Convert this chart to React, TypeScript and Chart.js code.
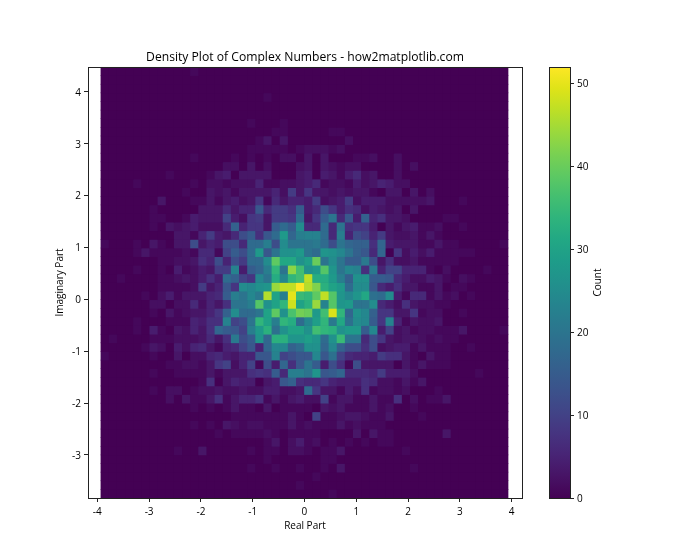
import React, { useEffect, useRef } from "react";
import { Chart, registerables } from "chart.js";

Chart.register(...registerables);

const FONT = "'Open Sans', sans-serif";
const TITLE = "Density Plot of Complex Numbers - how2matplotlib.com";
const X_LABEL = "Real Part";
const Y_LABEL = "Imaginary Part";
const BAR_LABEL = "Count";

const X_EDGE_LOW = -3.93;
const X_EDGE_HIGH = 3.93;
const Y_EDGE_LOW = -3.83;
const Y_EDGE_HIGH = 4.48;
const COUNT_MAX = 52;
const COUNT_TICK_STEP = 10;

const viridis = [
  "#440154", "#471365", "#482475", "#463480", "#414487", "#3b528b", "#355f8d", "#2f6c8e", "#2a788e",
  "#25848e", "#21918c", "#1e9c89", "#22a884", "#2fb47c", "#44bf70", "#5ec962", "#7ad151", "#9bd93c",
  "#bddf26", "#dfe318", "#fde725",
];

const z10 = [0, 0, 0, 0, 0, 0, 0, 0, 0, 0];

// counts by row, top row first
const row00 = [...z10, 0,1,0,0,0,0,0,0,0,0, ...z10, ...z10, ...z10];
const row01 = [...z10, ...z10, ...z10, ...z10, ...z10];
const row02 = [...z10, ...z10, ...z10, ...z10, ...z10];
const row03 = [...z10, ...z10, 1,0,0,0,0,0,0,0,0,0, ...z10, ...z10];
const row04 = [...z10, ...z10, ...z10, ...z10, ...z10];
const row05 = [...z10, ...z10, ...z10, ...z10, ...z10];
const row06 = [...z10, 0,0,0,0,0,0,0,0,1,0, 0,0,1,0,0,0,0,0,0,0, ...z10, ...z10];
const row07 = [...z10, ...z10, 0,1,1,0,0,0,0,0,1,1, ...z10, ...z10];
const row08 = [...z10, 0,0,0,0,0,0,0,0,0,1, 3,0,3,0,0,0,0,0,0,0, 2,0,0,0,0,0,0,0,0,0, ...z10];
const row09 = [...z10, 0,0,0,0,0,0,0,0,1,1, 1,1,1,0,1,2,2,2,1,2, ...z10, ...z10];
const row10 = [...z10, 0,1,0,0,0,0,1,0,1,0, 1,0,2,2,0,3,0,3,0,0, 0,1,1,2,0,0,2,0,0,0, ...z10];
const row11 = [...z10, 0,0,0,0,0,2,2,0,3,0, 2,0,0,0,2,3,0,3,2,1, 2,2,0,0,0,0,2,0,2,0, ...z10];
const row12 = [0,0,0,0,0,0,0,0,1,0, 0,0,0,1,3,4,0,3,3,3, 3,0,0,0,3,4,0,4,3,1, 4,6,2,3,0,0,2,0,0,0, ...z10];
const row13 = [0,0,0,0,1,0,0,0,0,0, 0,1,0,2,2,1,2,2,2,5, 1,1,2,2,3,4,6,1,2,2, 1,4,2,3,5,4,2,2,0,0, ...z10];
const row14 = [...z10, 1,0,0,3,2,3,1,3,3,3, 3,5,2,9,3,8,3,3,2,3, 2,3,3,1,0,3,3,0,3,0, 2,0,0,0,0,0,0,0,0,0];
const row15 = [0,0,0,0,0,0,0,3,0,0, 0,1,1,3,1,3,4,2,3,8, 1,6,3,5,5,4,9,2,3,4, 9,2,4,4,4,2,2,2,2,2, 3,0,0,0,1,0,0,0,0,0];
const row16 = [0,0,0,0,0,0,1,0,0,0, 0,0,3,3,3,6,3,5,5,14, 6,9,9,7,15,4,6,12,8,4, 7,6,2,4,3,2,3,0,3,0, ...z10];
const row17 = [0,0,0,0,0,0,1,1,0,0, 1,4,3,3,3,10,4,2,8,9, 3,9,9,8,18,3,8,15,20,6, 14,4,16,5,7,3,3,2,0,0, 0,0,1,1,0,0,0,0,0,0];
const row18 = [0,0,0,0,0,0,1,0,3,2, 3,4,2,2,2,6,16,5,8,8, 3,15,18,15,25,6,6,18,6,20, 7,8,8,4,0,3,1,3,4,1, 1,2,0,0,1,0,0,0,0,0];
const row19 = [0,0,0,0,0,0,0,0,0,3, 3,1,5,9,4,3,6,12,15,7, 14,18,28,17,22,23,23,18,6,22, 5,12,10,5,9,3,2,2,3,1, 3,1,0,0,0,0,0,0,0,0];
const row20 = [1,0,0,0,1,0,3,1,0,3, 3,12,3,5,4,12,12,6,18,18, 22,12,25,20,20,20,21,18,12,20, 17,16,16,7,17,4,3,3,3,1, 1,3,1,1,0,0,0,0,0,1];
const row21 = [0,0,0,0,1,3,1,1,1,1, 2,1,6,6,1,10,15,12,18,28, 14,20,26,26,28,20,18,27,26,24, 20,16,14,6,17,0,8,2,4,2, 4,1,1,1,1,1,0,0,0,0];
const row22 = [0,0,0,0,0,0,0,1,1,2, 2,3,7,5,12,5,12,9,18,18, 25,39,31,31,26,29,40,20,25,20, 15,15,21,12,3,7,2,2,3,1, 1,1,1,1,0,0,0,0,0,0];
const row23 = [0,0,0,0,1,0,0,1,0,4, 1,2,4,3,9,9,23,4,15,17, 22,34,20,43,36,26,28,38,27,20, 24,23,7,21,5,10,10,5,5,5, 1,0,2,0,0,0,0,1,0,0];
const row24 = [0,0,1,0,0,0,0,1,1,2, 3,2,4,7,4,18,16,10,8,24, 20,32,24,34,36,47,32,32,28,22, 16,26,26,15,15,14,6,4,2,2, 4,3,1,0,2,1,0,0,0,0];
const row25 = [0,0,0,0,0,0,0,1,1,1, 1,2,9,3,5,14,8,25,24,26, 27,44,47,47,52,46,42,33,30,28, 18,25,25,14,6,4,7,3,3,1, 1,3,0,1,1,0,0,0,0,0];
const row26 = [0,0,0,0,0,1,0,2,4,1, 3,3,3,5,6,15,22,20,24,21, 46,30,22,50,35,34,39,47,38,27, 24,27,31,19,18,25,4,1,6,6, 1,3,1,2,0,1,0,0,0,0];
const row27 = [0,0,0,0,0,0,2,2,0,2, 2,6,2,5,3,7,20,20,22,38, 26,30,34,48,30,33,44,23,38,27, 28,20,20,25,6,4,2,7,3,2, 2,1,1,0,0,0,0,0,0,0];
const row28 = [0,0,0,0,0,0,1,0,3,1, 2,3,3,5,8,16,25,18,18,20, 30,39,26,37,41,40,28,36,49,34, 17,26,24,16,8,8,3,3,8,1, 2,2,0,0,1,0,0,0,0,0];
const row29 = [0,0,0,0,1,0,0,0,1,1, 1,5,4,7,7,23,10,12,20,34, 30,22,34,32,18,24,29,34,21,31, 19,25,24,15,8,23,5,1,3,2, 2,3,0,0,0,0,0,0,0,0];
const row30 = [0,0,0,0,1,0,4,1,0,3, 2,5,3,7,17,15,14,10,22,28, 33,19,26,30,30,26,36,34,33,26, 28,28,15,24,4,10,2,3,1,2, 2,1,1,1,3,0,0,0,0,1];
const row31 = [0,1,0,0,0,0,1,1,1,2, 2,2,3,6,3,7,21,12,15,27, 17,33,33,27,27,29,27,18,26,35, 20,20,6,12,8,3,2,3,3,2, 1,2,1,1,0,0,0,0,0,0];
const row32 = [0,0,0,0,0,1,3,2,0,4, 2,5,6,3,1,5,6,10,14,5, 17,24,24,16,18,26,26,17,24,16, 12,12,7,12,2,3,4,4,1,3, 1,1,1,0,0,1,0,0,0,0];
const row33 = [1,0,0,0,0,0,1,0,0,3, 0,2,2,5,6,4,3,5,5,14, 14,23,10,12,14,14,24,14,19,10, 6,5,5,4,9,7,7,3,1,0, 3,1,1,0,0,0,0,0,0,0];
const row34 = [0,0,0,0,0,0,0,0,1,1, 2,2,1,3,8,10,2,5,10,1, 12,4,17,7,14,20,15,4,12,7, 1,12,3,3,3,3,0,3,1,3, 1,1,1,0,0,0,0,0,0,0];
const row35 = [0,0,0,0,0,0,1,0,0,1, 1,1,1,3,1,3,3,3,7,8, 7,15,6,22,22,20,27,14,15,17, 6,6,6,5,9,4,4,4,2,0, 0,0,0,0,0,0,1,0,0,0];
const row36 = [...z10, 0,0,1,7,0,3,5,4,4,0, 3,4,14,16,7,6,6,8,5,4, 4,4,7,6,2,2,1,3,1,3, ...z10];
const row37 = [0,0,0,0,0,0,1,0,2,2, 0,1,2,2,3,2,2,3,2,2, 4,4,2,2,3,18,8,3,3,1, 4,2,7,1,2,2,1,2,0,0, 0,1,0,0,0,0,0,0,0,0];
const row38 = [0,0,0,0,0,0,0,0,2,0, 3,1,1,3,7,1,3,5,5,7, 1,3,1,3,4,2,2,10,1,3, 3,1,1,3,1,1,7,0,2,0, 1,1,3,0,0,0,0,0,0,0];
const row39 = [...z10, 0,1,0,1,0,1,3,1,1,0, 3,0,1,1,1,1,0,3,2,3, 1,1,1,3,1,2,0,0,1,0, ...z10];
const row40 = [...z10, 0,0,0,0,0,0,1,1,1,1, 1,1,1,3,1,0,10,1,1,2, 3,3,2,1,1,3,0,0,0,1, ...z10];
const row41 = [...z10, 0,1,0,1,0,3,2,1,2,2, 1,1,1,3,1,2,1,1,1,3, 1,2,1,1,1,0,0,0,0,0, ...z10];
const row42 = [...z10, 0,0,0,0,1,0,1,1,1,1, 2,1,0,1,1,1,1,0,0,0, 0,3,0,3,1,1,0,0,0,0, 0,0,3,0,0,0,0,0,0,0];
const row43 = [...z10, ...z10, 1,3,0,2,4,1,2,0,1,0, 1,0,1,0,1,1,0,0,0,0, ...z10];
const row44 = [0,0,0,0,0,0,0,0,0,1, 0,0,3,0,0,0,0,0,1,0, 1,1,0,2,2,1,0,1,1,3, 0,0,0,0,0,0,0,1,0,0, ...z10];
const row45 = [...z10, ...z10, 1,0,0,0,0,0,0,1,1,0, ...z10, ...z10];
const row46 = [...z10, 0,0,0,0,0,0,0,0,1,0, 0,1,0,0,1,0,0,1,0,3, 0,0,0,0,0,0,0,0,1,0, ...z10];
const row47 = [...z10, ...z10, 0,0,0,0,0,0,1,0,0,0, ...z10, ...z10];
const row48 = [...z10, ...z10, 0,0,0,0,1,0,0,0,0,0, ...z10, ...z10];
const row49 = [...z10, ...z10, 0,0,0,0,0,0,0,0,1,0, ...z10, ...z10];

const rows = [
  row00, row01, row02, row03, row04, row05, row06, row07, row08, row09,
  row10, row11, row12, row13, row14, row15, row16, row17, row18, row19,
  row20, row21, row22, row23, row24, row25, row26, row27, row28, row29,
  row30, row31, row32, row33, row34, row35, row36, row37, row38, row39,
  row40, row41, row42, row43, row44, row45, row46, row47, row48, row49,
];

function hex(c: string) {
  return [1, 3, 5].map((i) => parseInt(c.slice(i, i + 2), 16));
}

function colorFor(count: number) {
  const t = Math.min(1, Math.max(0, count / COUNT_MAX)) * (viridis.length - 1);
  const i = Math.min(viridis.length - 2, Math.floor(t));
  const a = hex(viridis[i]);
  const b = hex(viridis[i + 1]);
  const f = t - i;
  return `rgb(${a.map((v, k) => Math.round(v + (b[k] - v) * f)).join(",")})`;
}

const spines = {
  id: "spines",
  afterDraw(chart: any) {
    const { ctx, chartArea: a } = chart;
    ctx.save();
    ctx.strokeStyle = "#222";
    ctx.lineWidth = 1;
    ctx.strokeRect(Math.round(a.left) + 0.5, Math.round(a.top) + 0.5, Math.round(a.right - a.left), Math.round(a.bottom - a.top));
    ctx.restore();
  },
};

// Solid ground under the cells, so their shared edges leave no pale seams.
const cellGround = {
  id: "cellGround",
  beforeDatasetsDraw(chart: any) {
    const { ctx, scales, chartArea: a } = chart;
    const left = scales.x.getPixelForValue(X_EDGE_LOW);
    const right = scales.x.getPixelForValue(X_EDGE_HIGH);
    ctx.save();
    ctx.fillStyle = viridis[0];
    ctx.fillRect(left, a.top, right - left, a.bottom - a.top);
    ctx.restore();
  },
};

const barGround = {
  id: "barGround",
  beforeDatasetsDraw(chart: any) {
    const { ctx, chartArea: a } = chart;
    ctx.save();
    ctx.fillStyle = viridis[0];
    ctx.fillRect(a.left, a.top, a.right - a.left, a.bottom - a.top + 1);
    ctx.restore();
  },
};

const countLabel = {
  id: "countLabel",
  afterDraw(chart: any) {
    const { ctx, chartArea: a } = chart;
    ctx.save();
    ctx.translate(598, (a.top + a.bottom) / 2);
    ctx.rotate(-Math.PI / 2);
    ctx.font = `10px ${FONT}`;
    ctx.fillStyle = "#000";
    ctx.textAlign = "center";
    ctx.textBaseline = "middle";
    ctx.fillText(BAR_LABEL, 0, 0);
    ctx.restore();
  },
};

const tickGrid = { display: true, drawOnChartArea: false, drawTicks: true, tickLength: 4, tickColor: "#222", offset: false };
const tickFont = { family: FONT, size: 10 };

export default function App() {
  const mainRef = useRef<HTMLCanvasElement>(null);
  const barRef = useRef<HTMLCanvasElement>(null);

  useEffect(() => {
    const nRows = rows.length;
    const nCols = rows[0].length;
    const dx = (X_EDGE_HIGH - X_EDGE_LOW) / nCols;
    const dy = (Y_EDGE_HIGH - Y_EDGE_LOW) / nRows;

    const datasets = rows.map((row, j) => ({
      label: `row ${j}`,
      data: row.map((_, i) => ({
        x: X_EDGE_LOW + dx * (i + 0.5),
        y: [Y_EDGE_HIGH - dy * (j + 1), Y_EDGE_HIGH - dy * j],
      })),
      backgroundColor: row.map(colorFor),
      borderWidth: 0,
      grouped: false,
      barPercentage: 1,
      categoryPercentage: 1,
    }));

    const main = new Chart(mainRef.current!, {
      type: "bar",
      data: { datasets } as any,
      plugins: [cellGround, spines],
      options: {
        animation: false,
        responsive: false,
        events: [],
        layout: { padding: { left: 0, right: 178, top: 50, bottom: 0 } },
        plugins: {
          legend: { display: false },
          tooltip: { enabled: false },
          title: {
            display: true,
            text: TITLE,
            fullSize: false,
            color: "#000",
            font: { family: FONT, size: 12.15, weight: "normal", lineHeight: 1.2 },
            padding: { top: 0, bottom: 2.4 },
          },
        },
        scales: {
          x: {
            type: "linear",
            min: -4.18,
            max: 4.2,
            offset: false,
            grid: tickGrid,
            border: { display: false },
            ticks: { stepSize: 1, includeBounds: false, color: "#000", font: tickFont, padding: 4, maxRotation: 0 },
            title: { display: true, text: X_LABEL, color: "#000", font: { family: FONT, size: 10 }, padding: { top: 0, bottom: 28 } },
            afterFit: (s: any) => { s.height = 62; },
          },
          y: {
            type: "linear",
            min: -3.83,
            max: 4.48,
            grid: tickGrid,
            border: { display: false },
            ticks: { stepSize: 1, includeBounds: false, color: "#000", font: tickFont, padding: 3, labelOffset: 1 },
            title: { display: true, text: Y_LABEL, color: "#000", font: { family: FONT, size: 10 }, padding: { top: 54, bottom: 0 } },
            afterFit: (s: any) => { s.width = 88; },
          },
        },
      } as any,
    });

    const bar = new Chart(barRef.current!, {
      type: "bar",
      data: {
        labels: [BAR_LABEL],
        datasets: [{
          data: [[0, COUNT_MAX]],
          borderWidth: 0,
          inflateAmount: 0,
          barPercentage: 1,
          categoryPercentage: 1,
          backgroundColor: (c: any) => {
            const a = c.chart.chartArea;
            if (!a) return viridis[0];
            const g = c.chart.ctx.createLinearGradient(0, a.bottom, 0, a.top);
            viridis.forEach((col, i) => g.addColorStop(i / (viridis.length - 1), col));
            return g;
          },
        }],
      } as any,
      plugins: [barGround, spines, countLabel],
      options: {
        animation: false,
        responsive: false,
        events: [],
        layout: { padding: { left: 549, right: 0, top: 67, bottom: 62 } },
        plugins: { legend: { display: false }, tooltip: { enabled: false }, title: { display: false } },
        scales: {
          x: { display: false },
          y: {
            type: "linear",
            position: "right",
            min: 0,
            max: COUNT_MAX,
            grid: tickGrid,
            border: { display: false },
            ticks: { stepSize: COUNT_TICK_STEP, includeBounds: false, color: "#000", font: tickFont, padding: 3, labelOffset: 1 },
            afterFit: (s: any) => { s.width = 130; },
          },
        },
      } as any,
    });

    return () => {
      main.destroy();
      bar.destroy();
    };
  }, []);

  const canvasStyle: React.CSSProperties = { position: "absolute", left: 0, top: 0, width: 700, height: 560 };
  return (
    <div style={{ position: "absolute", left: 0, top: 0, width: 700, height: 560 }}>
      <canvas ref={mainRef} width={700} height={560} style={canvasStyle} />
      <canvas ref={barRef} width={700} height={560} style={canvasStyle} />
    </div>
  );
}
